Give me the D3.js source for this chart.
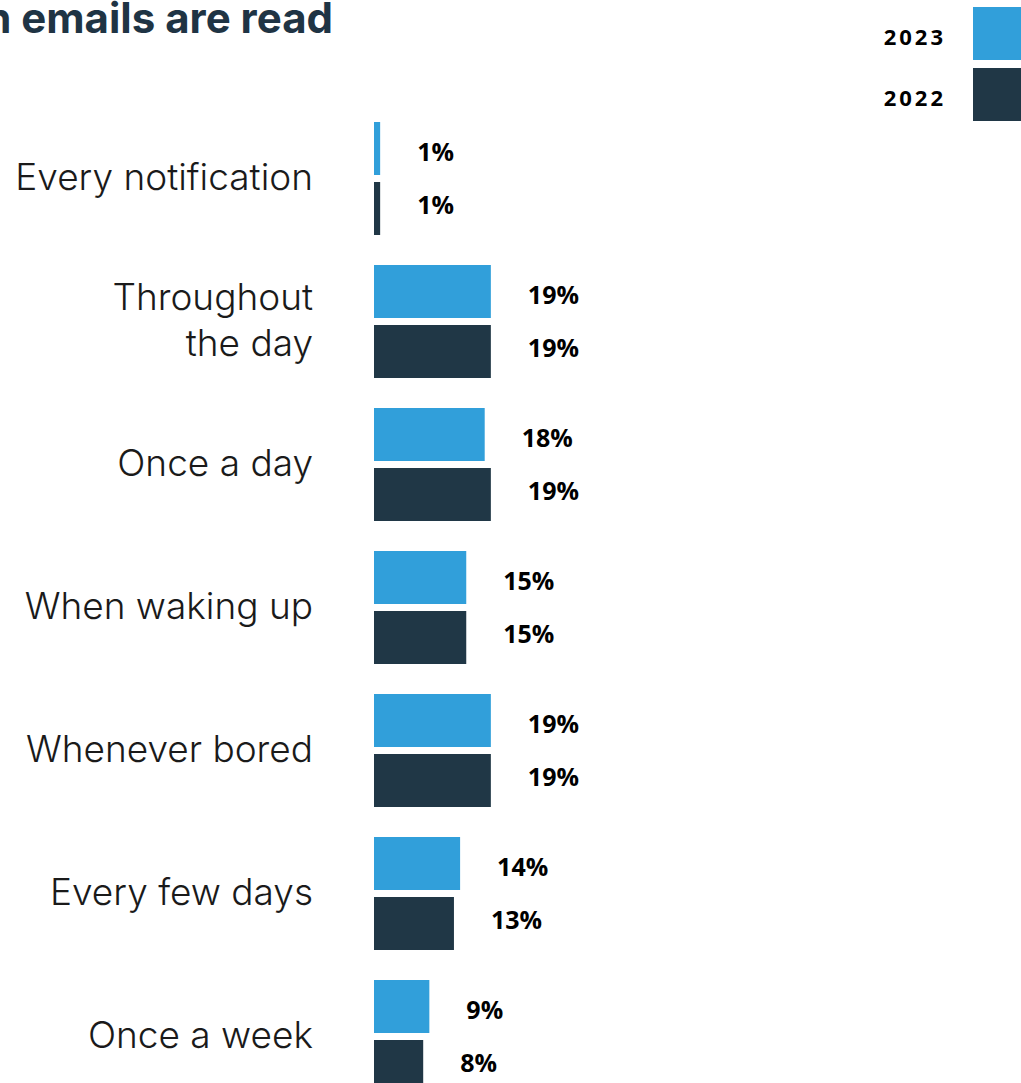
<!DOCTYPE html>
<html><head><meta charset="utf-8">
<script src="https://cdn.jsdelivr.net/npm/d3@7"></script>
<style>body{margin:0;background:#fff;overflow:hidden}</style>
</head><body>
<svg id="chart" width="1021" height="1083"></svg>
<script>
const categories = ["Every notification", "Throughout the day", "Once a day", "When waking up", "Whenever bored", "Every few days", "Once a week"];
const categoryLines = [["Every notification"], ["Throughout", "the day"], ["Once a day"], ["When waking up"], ["Whenever bored"], ["Every few days"], ["Once a week"]];
const series = ["2023", "2022"];
const values2023 = [1, 19, 18, 15, 19, 14, 9];
const values2022 = [1, 19, 19, 15, 19, 13, 8];
const colors = ["#319fda", "#203746"];
const title = "How often emails are read";

const svg = d3.select("#chart");
const x0 = 374;
const x = d3.scaleLinear().domain([0, 100]).range([x0, x0 + 615]);
const y = d3.scaleBand().domain(categories).range([122, 122 + 143 * 7]).paddingInner(0).paddingOuter(0);
const barH = 53, gap = 7;
const data = categories.map((c, i) => ({c, i, vals: [values2023[i], values2022[i]]}));

// title
svg.append("text").attr("x", 333).attr("y", 33).attr("text-anchor", "end")
  .attr("font-family", "Inter, Roboto, sans-serif").attr("font-weight", 700)
  .attr("font-size", 42).attr("fill", "#1f3444").text(title);

// legend
series.forEach((s, k) => {
  const ly = 7 + k * 61;
  svg.append("rect").attr("x", 973).attr("y", ly).attr("width", 53).attr("height", barH).attr("fill", colors[k]);
  svg.append("text").attr("x", 946).attr("y", ly + barH / 2 + 4).attr("dy", "0.36em").attr("text-anchor", "end")
    .attr("font-family", "'Open Sans', 'Noto Sans', sans-serif").attr("font-weight", 700)
    .attr("font-size", 22).attr("letter-spacing", 3).attr("fill", "#000").text(s);
});

const g = svg.selectAll("g.grp").data(data).join("g").attr("class", "grp")
  .attr("transform", d => `translate(0,${y(d.c)})`);

// category labels
g.each(function(d) {
  const lines = categoryLines[d.i];
  const lh = 46;
  const center = barH + gap / 2;
  const t = d3.select(this).append("text").attr("text-anchor", "end")
    .attr("font-family", "Inter, 'Noto Sans', sans-serif").attr("font-weight", 300)
    .attr("font-size", 37).attr("fill", "#1a1a1a");
  lines.forEach((l, j) => {
    t.append("tspan").attr("x", 313)
      .attr("y", center - 1 + (j - (lines.length - 1) / 2) * lh).attr("dy", "0.35em").text(l);
  });
});

// bars
g.selectAll("rect").data(d => d.vals.map((v, k) => ({v, k}))).join("rect")
  .attr("x", x(0)).attr("y", d => d.k * (barH + gap))
  .attr("width", d => x(d.v) - x(0)).attr("height", barH)
  .attr("fill", d => colors[d.k]);

// value labels
g.selectAll("text.val").data(d => d.vals.map((v, k) => ({v, k}))).join("text").attr("class", "val")
  .attr("x", d => x(d.v) + 37)
  .attr("y", d => d.k * (barH + gap) + barH / 2 + (d.k === 0 ? 3 : -4))
  .attr("dy", "0.36em")
  .attr("font-family", "'Open Sans', 'Noto Sans', sans-serif").attr("font-weight", 700)
  .attr("font-size", 25).attr("fill", "#000").text(d => d.v + "%");
</script>
</body></html>
